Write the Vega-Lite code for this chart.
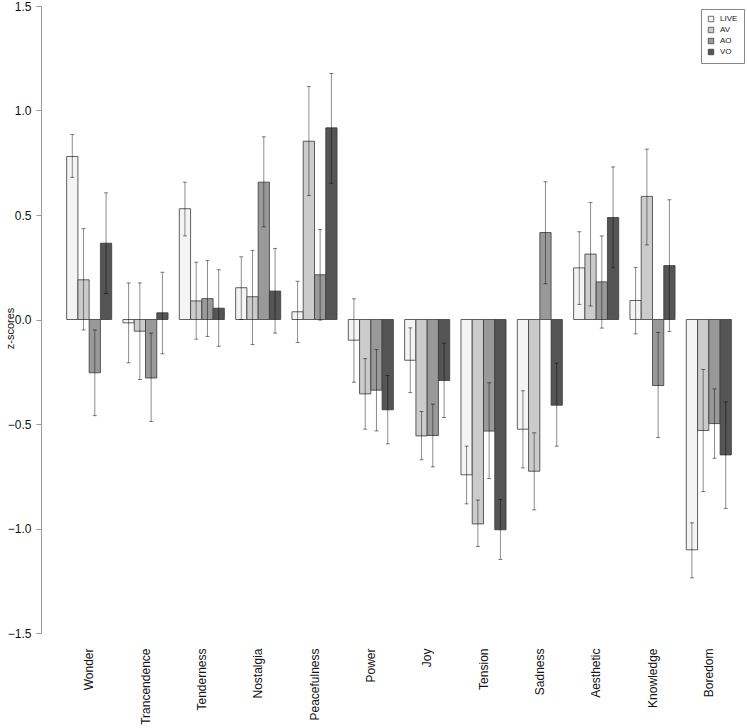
{
  "$schema": "https://vega.github.io/schema/vega-lite/v6.json",
  "autosize": "none",
  "width": 676,
  "height": 627,
  "padding": {"left": 61, "top": 6, "right": 10, "bottom": 95},
  "background": "white",
  "config": {
    "view": {"stroke": null},
    "font": "Liberation Sans",
    "axis": {"labelFont": "Liberation Sans", "titleFont": "Liberation Sans"},
    "legend": {"labelFont": "Liberation Sans"}
  },
  "data": {
    "values": [
      {"emotion": "Wonder", "cond": "LIVE", "z": 0.78, "lo": 0.68, "hi": 0.885},
      {"emotion": "Wonder", "cond": "AV", "z": 0.19, "lo": -0.05, "hi": 0.435},
      {"emotion": "Wonder", "cond": "AO", "z": -0.255, "lo": -0.46, "hi": -0.05},
      {"emotion": "Wonder", "cond": "VO", "z": 0.365, "lo": 0.124, "hi": 0.606},
      {"emotion": "Trancendence", "cond": "LIVE", "z": -0.016, "lo": -0.207, "hi": 0.175},
      {"emotion": "Trancendence", "cond": "AV", "z": -0.056, "lo": -0.287, "hi": 0.175},
      {"emotion": "Trancendence", "cond": "AO", "z": -0.28, "lo": -0.488, "hi": -0.065},
      {"emotion": "Trancendence", "cond": "VO", "z": 0.032, "lo": -0.164, "hi": 0.226},
      {"emotion": "Tenderness", "cond": "LIVE", "z": 0.53, "lo": 0.4, "hi": 0.657},
      {"emotion": "Tenderness", "cond": "AV", "z": 0.089, "lo": -0.094, "hi": 0.274},
      {"emotion": "Tenderness", "cond": "AO", "z": 0.1, "lo": -0.081, "hi": 0.282},
      {"emotion": "Tenderness", "cond": "VO", "z": 0.054, "lo": -0.128, "hi": 0.238},
      {"emotion": "Nostalgia", "cond": "LIVE", "z": 0.152, "lo": 0.0, "hi": 0.3},
      {"emotion": "Nostalgia", "cond": "AV", "z": 0.109, "lo": -0.12, "hi": 0.33},
      {"emotion": "Nostalgia", "cond": "AO", "z": 0.657, "lo": 0.443, "hi": 0.874},
      {"emotion": "Nostalgia", "cond": "VO", "z": 0.136, "lo": -0.065, "hi": 0.34},
      {"emotion": "Peacefulness", "cond": "LIVE", "z": 0.037, "lo": -0.11, "hi": 0.183},
      {"emotion": "Peacefulness", "cond": "AV", "z": 0.853, "lo": 0.593, "hi": 1.115},
      {"emotion": "Peacefulness", "cond": "AO", "z": 0.214, "lo": -0.003, "hi": 0.43},
      {"emotion": "Peacefulness", "cond": "VO", "z": 0.917, "lo": 0.652, "hi": 1.177},
      {"emotion": "Power", "cond": "LIVE", "z": -0.099, "lo": -0.3, "hi": 0.099},
      {"emotion": "Power", "cond": "AV", "z": -0.356, "lo": -0.525, "hi": -0.187},
      {"emotion": "Power", "cond": "AO", "z": -0.338, "lo": -0.533, "hi": -0.144},
      {"emotion": "Power", "cond": "VO", "z": -0.432, "lo": -0.595, "hi": -0.268},
      {"emotion": "Joy", "cond": "LIVE", "z": -0.195, "lo": -0.35, "hi": -0.04},
      {"emotion": "Joy", "cond": "AV", "z": -0.557, "lo": -0.671, "hi": -0.44},
      {"emotion": "Joy", "cond": "AO", "z": -0.555, "lo": -0.705, "hi": -0.405},
      {"emotion": "Joy", "cond": "VO", "z": -0.292, "lo": -0.469, "hi": -0.113},
      {"emotion": "Tension", "cond": "LIVE", "z": -0.743, "lo": -0.882, "hi": -0.606},
      {"emotion": "Tension", "cond": "AV", "z": -0.978, "lo": -1.086, "hi": -0.864},
      {"emotion": "Tension", "cond": "AO", "z": -0.534, "lo": -0.761, "hi": -0.303},
      {"emotion": "Tension", "cond": "VO", "z": -1.006, "lo": -1.148, "hi": -0.861},
      {"emotion": "Sadness", "cond": "LIVE", "z": -0.525, "lo": -0.71, "hi": -0.341},
      {"emotion": "Sadness", "cond": "AV", "z": -0.726, "lo": -0.911, "hi": -0.542},
      {"emotion": "Sadness", "cond": "AO", "z": 0.416, "lo": 0.171, "hi": 0.659},
      {"emotion": "Sadness", "cond": "VO", "z": -0.41, "lo": -0.606, "hi": -0.209},
      {"emotion": "Aesthetic", "cond": "LIVE", "z": 0.247, "lo": 0.072, "hi": 0.42},
      {"emotion": "Aesthetic", "cond": "AV", "z": 0.313, "lo": 0.065, "hi": 0.56},
      {"emotion": "Aesthetic", "cond": "AO", "z": 0.18, "lo": -0.041, "hi": 0.4},
      {"emotion": "Aesthetic", "cond": "VO", "z": 0.488, "lo": 0.247, "hi": 0.73},
      {"emotion": "Knowledge", "cond": "LIVE", "z": 0.091, "lo": -0.069, "hi": 0.249},
      {"emotion": "Knowledge", "cond": "AV", "z": 0.589, "lo": 0.357, "hi": 0.815},
      {"emotion": "Knowledge", "cond": "AO", "z": -0.316, "lo": -0.565, "hi": -0.062},
      {"emotion": "Knowledge", "cond": "VO", "z": 0.258, "lo": -0.057, "hi": 0.573},
      {"emotion": "Boredom", "cond": "LIVE", "z": -1.102, "lo": -1.236, "hi": -0.973},
      {"emotion": "Boredom", "cond": "AV", "z": -0.531, "lo": -0.823, "hi": -0.239},
      {"emotion": "Boredom", "cond": "AO", "z": -0.498, "lo": -0.664, "hi": -0.332},
      {"emotion": "Boredom", "cond": "VO", "z": -0.648, "lo": -0.904, "hi": -0.394}
    ]
  },
  "encoding": {
    "x": {
      "field": "emotion",
      "type": "nominal",
      "sort": null,
      "scale": {"paddingInner": 0.2, "paddingOuter": 0.1},
      "axis": {
        "title": null,
        "domain": false,
        "ticks": false,
        "labelAngle": -90,
        "labelAlign": "right",
        "labelBaseline": "middle",
        "labelPadding": 15,
        "labelFontSize": 12,
        "labelColor": "#111"
      }
    },
    "xOffset": {
      "field": "cond",
      "type": "nominal",
      "scale": {"domain": ["LIVE", "AV", "AO", "VO"], "paddingInner": 0, "paddingOuter": 0}
    }
  },
  "layer": [
    {
      "mark": {"type": "bar", "stroke": "#3a3a3a", "strokeWidth": 0.8},
      "encoding": {
        "y": {
          "field": "z",
          "type": "quantitative",
          "scale": {"domain": [-1.5, 1.5], "nice": false, "zero": true},
          "axis": {
            "title": "z-scores",
            "titleFontSize": 11,
            "titleFontWeight": "normal",
            "titleColor": "#111",
            "titleX": -31,
            "titleY": 322,
            "titleAlign": "center",
            "titleBaseline": "middle",
            "values": [-1.5, -1, -0.5, 0, 0.5, 1, 1.5],
            "format": ".1f",
            "grid": false,
            "offset": 20,
            "domainColor": "#999",
            "tickColor": "#999",
            "tickSize": 5,
            "labelFontSize": 12,
            "labelColor": "#111",
            "labelPadding": 5
          }
        },
        "fill": {
          "field": "cond",
          "type": "nominal",
          "scale": {"domain": ["LIVE", "AV", "AO", "VO"], "range": ["#f4f4f4", "#cbcbcb", "#999999", "#555555"]},
          "legend": {
            "title": null,
            "orient": "none",
            "legendX": 640,
            "legendY": 3,
            "strokeColor": "#888",
            "padding": 6,
            "symbolType": "square",
            "symbolSize": 30,
            "symbolStrokeColor": "#333",
            "symbolStrokeWidth": 0.7,
            "labelFontSize": 8,
            "labelColor": "#222",
            "rowPadding": 1,
            "labelOffset": 5
          }
        }
      }
    },
    {
      "mark": {"type": "rule", "color": "black", "opacity": 0.45, "strokeWidth": 1},
      "encoding": {
        "y": {"field": "lo", "type": "quantitative"},
        "y2": {"field": "hi"}
      }
    },
    {
      "mark": {"type": "tick", "color": "black", "opacity": 0.5, "size": 4, "thickness": 1},
      "encoding": {
        "y": {"field": "lo", "type": "quantitative"}
      }
    },
    {
      "mark": {"type": "tick", "color": "black", "opacity": 0.5, "size": 4, "thickness": 1},
      "encoding": {
        "y": {"field": "hi", "type": "quantitative"}
      }
    }
  ]
}
